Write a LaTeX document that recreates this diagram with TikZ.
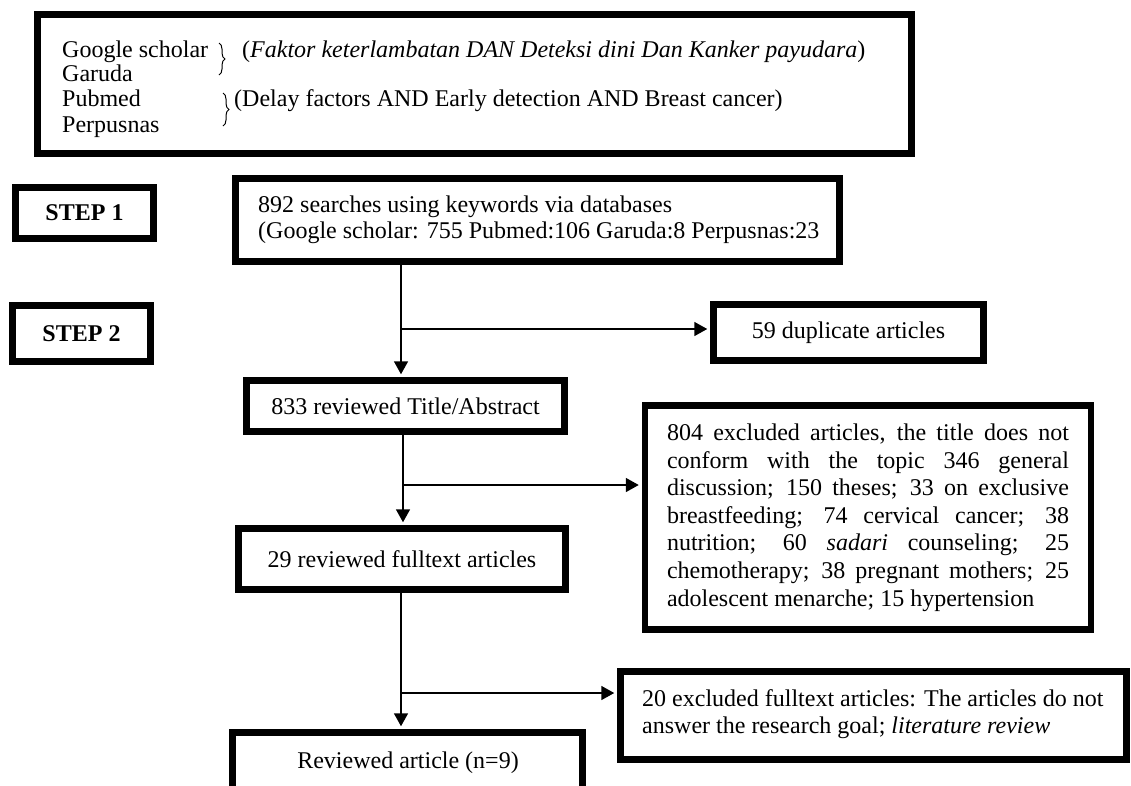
\documentclass[tikz,border=0pt]{standalone}
\usepackage{fontspec}
\setmainfont{Liberation Serif}
\usetikzlibrary{arrows.meta,decorations.pathreplacing}
\begin{document}
\begin{tikzpicture}[x=1pt,y=-1pt,
  box/.style={draw,line width=6.5pt,inner sep=0pt,align=center},
  txt/.style={inner sep=0pt,anchor=base west},
  arr/.style={line width=1.7pt,shorten >=3pt,-{Triangle[length=13pt,width=14pt]}},
  brc/.style={decorate,decoration={brace,amplitude=6pt},line width=1pt}]
\fontsize{24}{27.6}\selectfont
\useasboundingbox (0,0) rectangle (1131,785);
% top box
\node[box,minimum width=874,minimum height=139] (top) at (474.5,84) {};
\node[txt] (gs) at (62,57) {Google scholar};
\node[txt] (ga) at (62,81) {Garuda};
\node[txt] (pm) at (62,106) {Pubmed};
\node[txt] (pp) at (62,132) {Perpusnas};
\draw[brc] (219,43) -- (219,75);
\draw[brc] (223,93) -- (223,126);
\node[txt] (kw1) at (242,57) {(\textit{Faktor keterlambatan DAN Deteksi dini Dan Kanker payudara})};
\node[txt] (kw2) at (234,106) {(Delay factors AND Early detection AND Breast cancer)};
% steps
\node[box,font=\bfseries,minimum width=138,minimum height=51] (s1) at (84.5,213) {STEP 1};
\node[box,font=\bfseries,minimum width=138,minimum height=56] (s2) at (81.5,333.5) {STEP 2};
% flow
\node[box,minimum width=604,minimum height=83] (b892) at (537.5,220) {};
\node[txt] (t892a) at (258,212) {892 searches using keywords via databases};
\node[txt] (t892b) at (258,238) {(Google scholar: 755 Pubmed:106 Garuda:8 Perpusnas:23};
\node[box,minimum width=270,minimum height=56] (b59) at (848.5,332.5) {59 duplicate articles};
\node[box,minimum width=318,minimum height=51] (b833) at (405.5,406) {833 reviewed Title/Abstract};
\node[box,minimum width=327,minimum height=61] (b29) at (402,559) {29 reviewed fulltext articles};
\node[box,minimum width=446,minimum height=224,text width=402,align=justify] (b804) at (868,517.5) {804 excluded articles, the title does not\linebreak conform with the topic 346 general\linebreak discussion; 150 theses; 33 on exclusive\linebreak breastfeeding; 74 cervical cancer; 38\linebreak nutrition; 60 \textit{sadari} counseling; 25\linebreak chemotherapy; 38 pregnant mothers; 25\linebreak adolescent menarche; 15 hypertension};
\node[box,minimum width=506,minimum height=88] (b20) at (873.5,715.5) {};
\node[txt] (t20a) at (642,706) {20 excluded fulltext articles: The articles do not};
\node[txt] (t20b) at (642,733) {answer the research goal; \textit{literature review}};
\node[box,minimum width=350,minimum height=80] (rev) at (407.5,772.5) {};
\node[txt,anchor=base] (trev) at (408,768) {Reviewed article (n=9)};
% connectors
\coordinate (j1) at (401,329);
\coordinate (j2) at (403,485);
\coordinate (j3) at (401,693);
\draw[arr] (b892.south -| j1) -- (b833.north -| j1);
\draw[arr] (j1) -- (b59.west |- j1);
\draw[arr] (b833.south -| j2) -- (b29.north -| j2);
\draw[arr] (j2) -- (b804.west |- j2);
\draw[arr] (b29.south -| j3) -- (rev.north -| j3);
\draw[arr] (j3) -- (b20.west |- j3);
\end{tikzpicture}
\end{document}
